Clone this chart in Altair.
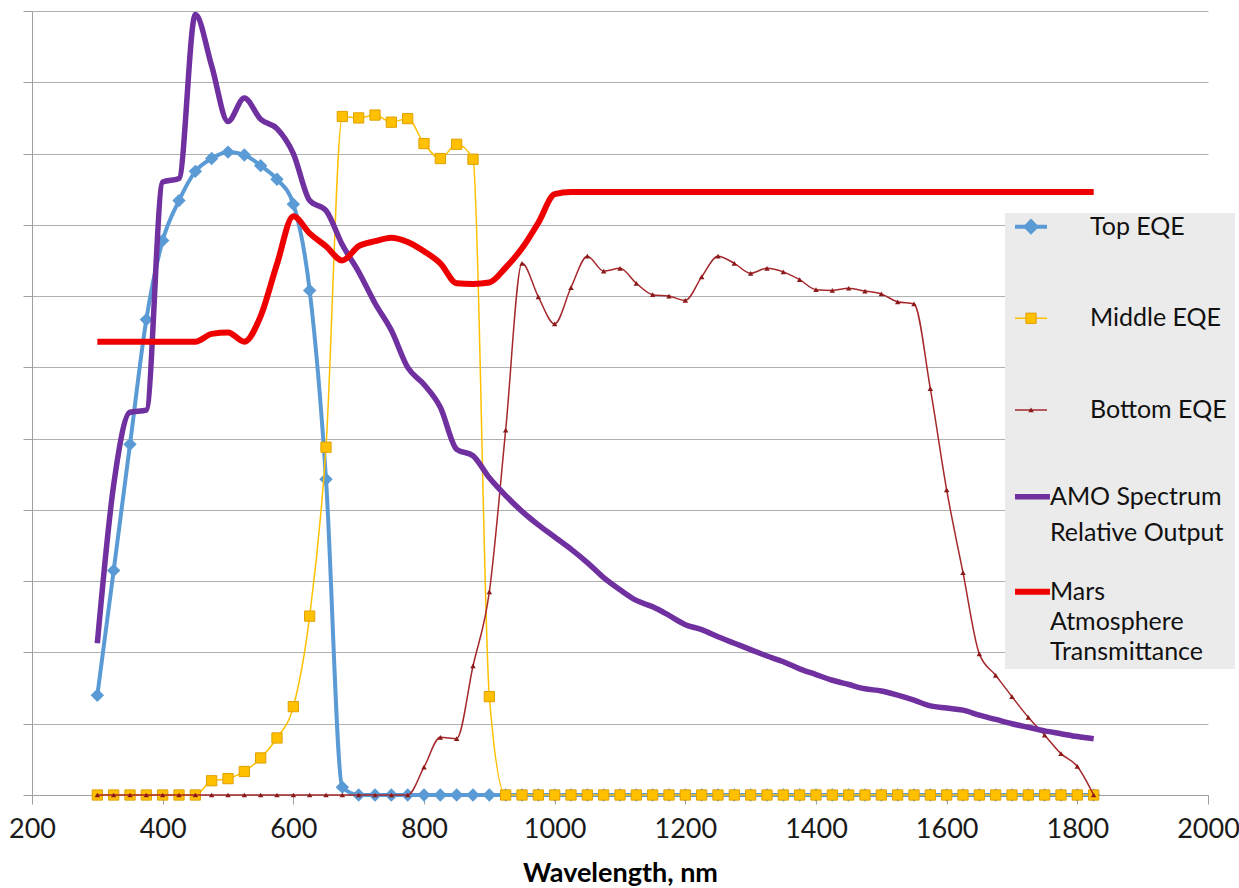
import altair as alt
import pandas as pd

# ---------------- data ----------------
wavelength = [300, 325, 350, 375, 400, 425, 450, 475, 500, 525, 550, 575, 600, 625, 650, 675,
              700, 725, 750, 775, 800, 825, 850, 875, 900, 925, 950, 975, 1000, 1025, 1050, 1075,
              1100, 1125, 1150, 1175, 1200, 1225, 1250, 1275, 1300, 1325, 1350, 1375, 1400, 1425,
              1450, 1475, 1500, 1525, 1550, 1575, 1600, 1625, 1650, 1675, 1700, 1725, 1750, 1775,
              1800, 1825]

top_eqe = [0.140, 0.315, 0.492, 0.667, 0.778, 0.834, 0.875, 0.893, 0.902, 0.898, 0.883, 0.864,
           0.829, 0.708, 0.443, 0.011,
           0, 0, 0, 0, 0, 0, 0, 0, 0, 0, 0, 0, 0, 0, 0, 0, 0, 0, 0, 0, 0, 0, 0, 0, 0, 0, 0,
           0, 0, 0, 0, 0, 0, 0, 0, 0, 0, 0, 0, 0, 0, 0, 0, 0, 0, 0]

middle_eqe = [0, 0, 0, 0, 0, 0, 0, 0.020, 0.023, 0.033, 0.052, 0.080, 0.124, 0.251, 0.488,
              0.952, 0.950, 0.954, 0.944, 0.949, 0.914, 0.893, 0.913, 0.892, 0.138,
              0, 0, 0, 0, 0, 0, 0, 0, 0, 0, 0, 0, 0, 0, 0, 0, 0, 0, 0, 0, 0, 0, 0, 0, 0, 0,
              0, 0, 0, 0, 0, 0, 0, 0, 0, 0, 0]

bottom_eqe = [0, 0, 0, 0, 0, 0, 0, 0, 0, 0, 0, 0, 0, 0, 0, 0, 0, 0, 0, 0,
              0.039, 0.081, 0.079, 0.181, 0.285, 0.512, 0.746, 0.699, 0.661, 0.712, 0.756,
              0.735, 0.739, 0.718, 0.702, 0.700, 0.694, 0.727, 0.756, 0.746, 0.732, 0.739,
              0.734, 0.723, 0.709, 0.708, 0.711, 0.707, 0.703, 0.692, 0.689, 0.570, 0.428,
              0.312, 0.198, 0.168, 0.138, 0.109, 0.084, 0.058, 0.040, 0.000]

amo_spectrum = [0.213, 0.435, 0.537, 0.540, 0.860, 0.865, 1.095, 1.023, 0.945, 0.978, 0.948,
                0.935, 0.900, 0.834, 0.820, 0.772, 0.734, 0.690, 0.652, 0.600, 0.576, 0.544,
                0.485, 0.476, 0.445, 0.420, 0.398, 0.379, 0.362, 0.345, 0.326, 0.305, 0.288,
                0.273, 0.264, 0.252, 0.239, 0.232, 0.222, 0.213, 0.204, 0.195, 0.187, 0.177,
                0.169, 0.161, 0.155, 0.149, 0.146, 0.140, 0.133, 0.125, 0.122, 0.119, 0.112,
                0.106, 0.100, 0.095, 0.090, 0.086, 0.082, 0.079]

mars_transmittance = [0.636, 0.636, 0.636, 0.636, 0.636, 0.636, 0.636, 0.647, 0.649, 0.636,
                      0.672, 0.745, 0.812, 0.788, 0.770, 0.750, 0.770, 0.777, 0.782, 0.776,
                      0.763, 0.746, 0.718, 0.717, 0.719, 0.740, 0.767, 0.803, 0.843, 0.846,
                      0.846, 0.846, 0.846, 0.846, 0.846, 0.846, 0.846, 0.846, 0.846, 0.846,
                      0.846, 0.846, 0.846, 0.846, 0.846, 0.846, 0.846, 0.846, 0.846, 0.846,
                      0.846, 0.846, 0.846, 0.846, 0.846, 0.846, 0.846, 0.846, 0.846, 0.846,
                      0.846, 0.846]

x_ticks = [200, 400, 600, 800, 1000, 1200, 1400, 1600, 1800, 2000]
y_grid = [0, 0.1, 0.2, 0.3, 0.4, 0.5, 0.6, 0.7, 0.8, 0.9, 1.0, 1.1]

# legend content
legend_labels = ["Top EQE", "Middle EQE", "Bottom EQE", "AMO Spectrum", "Relative Output",
                 "Mars", "Atmosphere", "Transmittance"]

# ---------------- styling ----------------
FONT = "Lato"
C_TOP = "#5B9BD5"
C_MID = "#FFC000"
C_BOT = "#A5282C"
C_AMO = "#7030A0"
C_MARS = "#EE0000"


def frame(values):
    return pd.DataFrame({"wl": wavelength, "v": values})


df_top = frame(top_eqe)
df_mid = frame(middle_eqe)
df_bot = frame(bottom_eqe)
df_amo = frame(amo_spectrum)
df_mars = frame(mars_transmittance)

x_enc = alt.X(
    "wl:Q",
    scale=alt.Scale(domain=[200, 2000], nice=False, zero=False),
    axis=alt.Axis(
        values=x_ticks, title="Wavelength, nm", grid=False, tickSize=9,
        tickColor="#A0A0A0", domainColor="#A0A0A0", labelFont=FONT, labelFontSize=27,
        labelColor="#1a1a1a", labelPadding=12, labelFlush=False, titleFont=FONT,
        titleFontSize=27, titleFontWeight="bold", titleColor="#000000", titlePadding=18,
        format="d",
    ),
)
y_enc = alt.Y(
    "v:Q",
    scale=alt.Scale(domain=[0, 1.1], nice=False, zero=True),
    axis=alt.Axis(
        values=y_grid, labels=False, title=None, grid=True, gridColor="#B0B0B0",
        gridWidth=1, tickSize=9, tickColor="#A0A0A0", domainColor="#A0A0A0",
    ),
)
x_plain = alt.X("wl:Q")
y_plain = alt.Y("v:Q")

top_line = alt.Chart(df_top).mark_line(color=C_TOP, strokeWidth=4, interpolate="monotone").encode(x=x_enc, y=y_enc)
top_pts = alt.Chart(df_top).mark_point(shape="diamond", filled=True, size=180, color=C_TOP, opacity=1).encode(x=x_plain, y=y_plain)
mid_line = alt.Chart(df_mid).mark_line(color=C_MID, strokeWidth=1.5, interpolate="monotone").encode(x=x_plain, y=y_plain)
mid_pts = alt.Chart(df_mid).mark_point(shape="square", filled=True, size=105, fill=C_MID, stroke="#E0A000", strokeWidth=1, opacity=1).encode(x=x_plain, y=y_plain)
bot_line = alt.Chart(df_bot).mark_line(color=C_BOT, strokeWidth=1.5, interpolate="monotone").encode(x=x_plain, y=y_plain)
bot_pts = alt.Chart(df_bot).mark_point(shape="triangle-up", filled=True, size=30, color="#8B1A1A", opacity=1).encode(x=x_plain, y=y_plain)
amo_line = alt.Chart(df_amo).mark_line(color=C_AMO, strokeWidth=5.5, interpolate="monotone").encode(x=x_plain, y=y_plain)
mars_line = alt.Chart(df_mars).mark_line(color=C_MARS, strokeWidth=6, interpolate="monotone").encode(x=x_plain, y=y_plain)

# ---------------- manual legend (layout in axis units) ----------------
box = pd.DataFrame({"wl": [1689.3], "wl2": [2041.3], "v": [0.8166], "v2": [0.1768]})
legend_box = alt.Chart(box).mark_rect(color="#EBEBEB").encode(
    x=x_plain, x2="wl2:Q", y=y_plain, y2="v2:Q")

sym_rows = pd.DataFrame({
    "wl": [1704.6, 1704.6, 1704.6, 1704.6, 1704.6],
    "wl2": [1753.6, 1753.6, 1753.6, 1758.1, 1758.1],
    "v": [0.7974, 0.6689, 0.5402, 0.4185, 0.2853],
    "color": [C_TOP, C_MID, C_BOT, C_AMO, C_MARS],
    "w": [4, 1.5, 1.5, 5.5, 6],
})
legend_rules = alt.Chart(sym_rows).mark_rule().encode(
    x=x_plain, x2="wl2:Q", y=y_plain,
    color=alt.Color("color:N", scale=None),
    strokeWidth=alt.StrokeWidth("w:Q", scale=None),
)
leg_top = alt.Chart(pd.DataFrame({"wl": [1729.1], "v": [0.7974]})).mark_point(
    shape="diamond", filled=True, size=260, color=C_TOP, opacity=1).encode(x=x_plain, y=y_plain)
leg_mid = alt.Chart(pd.DataFrame({"wl": [1729.1], "v": [0.6689]})).mark_point(
    shape="square", filled=True, size=105, fill=C_MID, stroke="#E0A000", strokeWidth=1, opacity=1).encode(x=x_plain, y=y_plain)
leg_bot = alt.Chart(pd.DataFrame({"wl": [1729.1], "v": [0.5402]})).mark_point(
    shape="triangle-up", filled=True, size=30, color="#8B1A1A", opacity=1).encode(x=x_plain, y=y_plain)

txt = pd.DataFrame({
    "wl": [1819.4, 1819.4, 1819.4, 1758.1, 1758.1, 1758.1, 1758.1, 1758.1],
    "v": [0.7974, 0.6689, 0.5402, 0.4185, 0.3676, 0.2853, 0.2423, 0.2006],
    "label": legend_labels,
})
legend_text = alt.Chart(txt).mark_text(
    align="left", baseline="middle", font=FONT, fontSize=25, color="#111111"
).encode(x=x_plain, y=y_plain, text="label:N")

chart = alt.layer(
    top_line, top_pts, mid_line, mid_pts, bot_line, bot_pts, amo_line, mars_line,
    legend_box, legend_rules, leg_top, leg_mid, leg_bot, legend_text,
).properties(
    width=1176, height=784,
    autosize=alt.AutoSizeParams(type="none"),
    padding={"left": 32, "top": 11, "right": 31, "bottom": 93},
    background="white",
).configure_view(stroke=None)

chart.save("out.html", embed_options={"renderer": "svg", "actions": False})
